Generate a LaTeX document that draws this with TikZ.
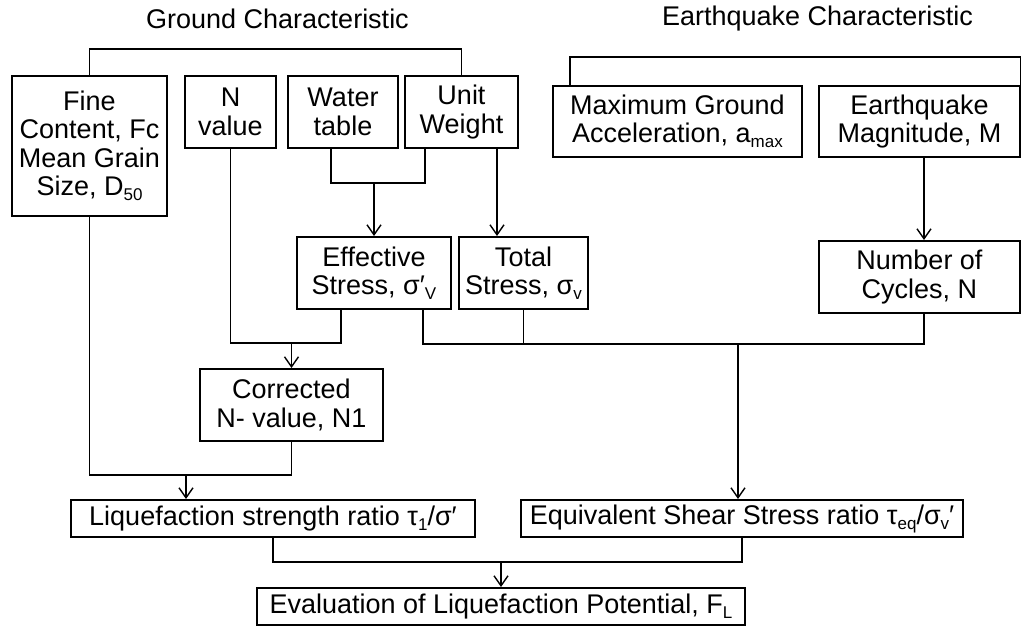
\documentclass[tikz,border=0pt]{standalone}
\usepackage{fontspec}
\setmainfont{Liberation Sans}
\usetikzlibrary{arrows.meta,calc}
\newcommand{\sbs}[1]{\raisebox{-0.35ex}{\fontsize{17}{17}\selectfont #1}}
\begin{document}
\begin{tikzpicture}[x=1pt,y=-1pt,
  txt/.style={font=\fontsize{27}{28.5}\selectfont},
  box/.style={txt,draw,line width=2pt,inner sep=0pt,align=center},
  conn/.style={line width=1.8pt},
  arr/.style={line width=1.8pt,-{Straight Barb[length=10pt,width=14pt,line width=1.4pt]}}]
\useasboundingbox (0,0) rectangle (1021,626);
% titles
\node[txt] (gtitle) at (277.5,19) {Ground Characteristic};
\node[txt] (etitle) at (817.5,19) {Earthquake Characteristic};
% boxes
\node[box,minimum width=155pt,minimum height=140pt] (fine) at (89.5,146) {Fine\\Content, Fc\\Mean Grain\\Size, D\sbs{50}};
\node[box,minimum width=91pt,minimum height=72pt] (nval) at (230.5,112) {N\\value};
\node[box,minimum width=110pt,minimum height=72pt] (water) at (343,112) {Water\\table};
\node[box,minimum width=113pt,minimum height=72pt] (unit) at (461.5,112) {Unit\\Weight};
\node[box,minimum width=249pt,minimum height=71pt] (mga) at (677.5,121.5) {Maximum Ground\\Acceleration, a\sbs{max}};
\node[box,minimum width=201pt,minimum height=71pt] (mag) at (919.5,121.5) {Earthquake\\Magnitude, M};
\node[box,minimum width=154pt,minimum height=72pt] (eff) at (374,273) {Effective\\Stress, σ′\sbs{V}};
\node[box,minimum width=129pt,minimum height=72pt] (tot) at (523.5,273) {Total\\Stress, σ\sbs{v}};
\node[box,minimum width=201pt,minimum height=72pt] (noc) at (919.5,277) {Number of\\Cycles, N};
\node[box,minimum width=183pt,minimum height=72pt] (corr) at (291.5,405) {Corrected\\N- value, N1};
\node[box,minimum width=404pt,minimum height=37pt] (liq) at (273,518.5) {Liquefaction strength ratio τ\sbs{1}/σ′};
\node[box,minimum width=442pt,minimum height=37pt] (equ) at (742,518.5) {Equivalent Shear Stress ratio τ\sbs{eq}/σ\sbs{v}′};
\node[box,minimum width=488pt,minimum height=37pt] (fl) at (501,606.5) {Evaluation of Liquefaction Potential, F\sbs{L}};
% helper coordinates
\coordinate (gy) at (0,49);
\coordinate (ey) at (0,57);
\coordinate (wx) at (331,0);
\coordinate (ux) at (425,0);
\coordinate (wy) at (0,183);
\coordinate (utx) at (497,0);
\coordinate (mx) at (924,0);
\coordinate (ny) at (0,343);
\coordinate (ex) at (341,0);
\coordinate (erx) at (423,0);
\coordinate (sy) at (0,344);
\coordinate (eqx) at (738,0);
\coordinate (fy) at (0,475);
\coordinate (lqx) at (186,0);
\coordinate (by) at (0,562);
\coordinate (mgl) at ($(mga.north west)+(18,0)$);
% connectors
\draw[conn] (fine.north) -- (fine.north |- gy) -- (unit.north |- gy) -- (unit.north);
\draw[conn] (mgl) -- (mgl |- ey) -- (mag.north east |- ey) -- (mag.north east);
\draw[conn] (water.south -| wx) -- (wy -| wx) -- (wy -| ux) -- (unit.south -| ux);
\draw[arr] (wy -| eff.north) -- (eff.north);
\draw[arr] (unit.south -| utx) -- (tot.north -| utx);
\draw[arr] (mag.south -| mx) -- (noc.north -| mx);
\draw[conn] (nval.south) -- (nval.south |- ny) -- (ny -| ex) -- (eff.south -| ex);
\draw[arr] (ny -| corr.north) -- (corr.north);
\draw[conn] (eff.south -| erx) -- (sy -| erx) -- (sy -| mx) -- (noc.south -| mx);
\draw[conn] (tot.south) -- (tot.south |- sy);
\draw[arr] (sy -| eqx) -- (equ.north -| eqx);
\draw[conn] (fine.south) -- (fine.south |- fy) -- (fy -| corr.south) -- (corr.south);
\draw[arr] (fy -| lqx) -- (liq.north -| lqx);
\draw[conn] (liq.south) -- (liq.south |- by) -- (by -| equ.south) -- (equ.south);
\draw[arr] (by -| fl.north) -- (fl.north);
\end{tikzpicture}
\end{document}
